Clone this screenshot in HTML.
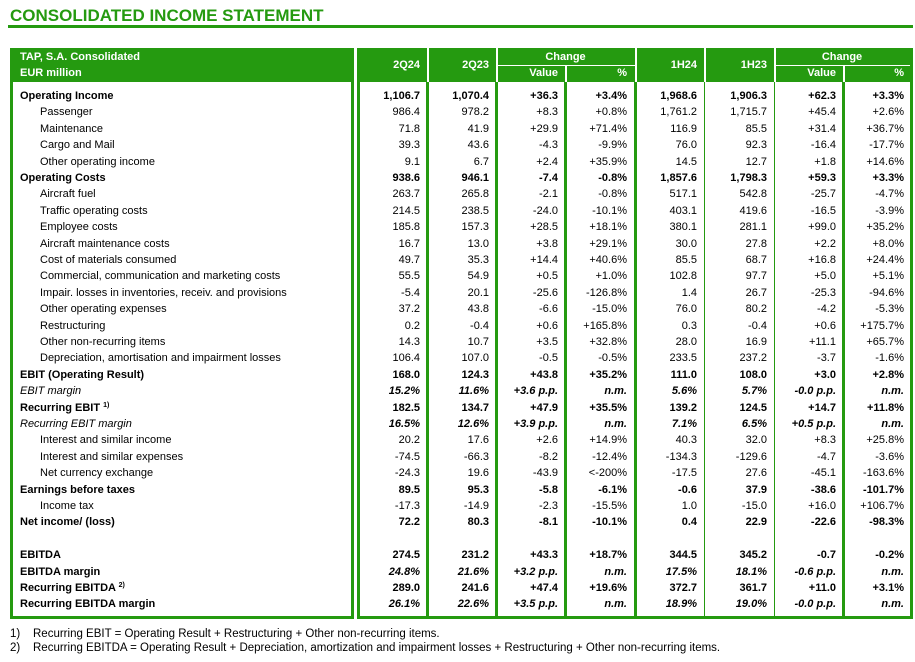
<!DOCTYPE html>
<html><head><meta charset="utf-8"><style>
body{margin:0;width:915px;height:662px;background:#fff;font-family:"Liberation Sans",Arial,sans-serif;position:relative;overflow:hidden;color:#000}
.a{position:absolute;white-space:nowrap;font-size:11px;line-height:13px}
.g{position:absolute;background:#259a10}
.w{position:absolute;background:#fff}
sup{font-size:7px;line-height:0;vertical-align:0;position:relative;top:-4px}
</style></head><body>
<div class="a" style="left:10px;top:6px;font-size:17px;line-height:20px;font-weight:bold;color:#259a10">CONSOLIDATED INCOME STATEMENT</div>
<div class="g" style="left:8px;top:25px;width:905px;height:3px"></div>
<div id="t"></div>
<div class="a" style="left:10px;top:628px;font-size:11.5px">1)&nbsp;&nbsp;&nbsp;&nbsp;Recurring EBIT = Operating Result + Restructuring + Other non-recurring items.</div>
<div class="a" style="left:10px;top:642px;font-size:11.5px">2)&nbsp;&nbsp;&nbsp;&nbsp;Recurring EBITDA = Operating Result + Depreciation, amortization and impairment losses + Restructuring + Other non-recurring items.</div>
<script>
var t=document.getElementById('t'),h='';
function box(x,y,w,hh,c){h+='<div class="'+c+'" style="left:'+x+'px;top:'+y+'px;width:'+w+'px;height:'+hh+'px"></div>';}
function tx(x,y,s,st){h+='<div class="a" style="left:'+x+'px;top:'+y+'px;'+(st||'')+'">'+s+'</div>';}
function rt(r,y,s,st){h+='<div class="a" style="right:'+(915-r)+'px;top:'+y+'px;'+(st||'')+'">'+s+'</div>';}
box(10,48,344,34,'g');box(357,48,556,34,'g');
box(10,82,3,537,'g');box(351,82,3,537,'g');box(10,616,344,3,'g');
box(357,82,3,537,'g');box(910,82,3,537,'g');box(357,616,556,3,'g');
var th=[427,496,565,635,843],tn=[704,774];
th.forEach(function(x){box(x-1,82,3,537,'g');});
tn.forEach(function(x){box(x,82,1,537,'g');});
[427,496,635,704,774].forEach(function(x){box(x,48,2,34,'w');});
box(496,65,139,1,'w');box(774,65,136,1,'w');box(565,65,2,17,'w');box(843,65,2,17,'w');
tx(20,51,'TAP, S.A. Consolidated','color:#fff;font-weight:bold');
tx(20,67,'EUR million','color:#fff;font-weight:bold');
var R=[420,489,558,627,697,767,836,904];
rt(R[0],59,'2Q24','color:#fff;font-weight:bold');rt(R[1],59,'2Q23','color:#fff;font-weight:bold');
rt(R[4],59,'1H24','color:#fff;font-weight:bold');rt(R[5],59,'1H23','color:#fff;font-weight:bold');
tx(496,51,'Change','color:#fff;font-weight:bold;width:139px;text-align:center');
tx(774,51,'Change','color:#fff;font-weight:bold;width:136px;text-align:center');
rt(R[2],67,'Value','color:#fff;font-weight:bold');rt(R[3],67,'%','color:#fff;font-weight:bold');
rt(R[6],67,'Value','color:#fff;font-weight:bold');rt(R[7],67,'%','color:#fff;font-weight:bold');
var rows=[
['Operating Income','b','1,106.7|1,070.4|+36.3|+3.4%|1,968.6|1,906.3|+62.3|+3.3%'],
['Passenger','s','986.4|978.2|+8.3|+0.8%|1,761.2|1,715.7|+45.4|+2.6%'],
['Maintenance','s','71.8|41.9|+29.9|+71.4%|116.9|85.5|+31.4|+36.7%'],
['Cargo and Mail','s','39.3|43.6|-4.3|-9.9%|76.0|92.3|-16.4|-17.7%'],
['Other operating income','s','9.1|6.7|+2.4|+35.9%|14.5|12.7|+1.8|+14.6%'],
['Operating Costs','b','938.6|946.1|-7.4|-0.8%|1,857.6|1,798.3|+59.3|+3.3%'],
['Aircraft fuel','s','263.7|265.8|-2.1|-0.8%|517.1|542.8|-25.7|-4.7%'],
['Traffic operating costs','s','214.5|238.5|-24.0|-10.1%|403.1|419.6|-16.5|-3.9%'],
['Employee costs','s','185.8|157.3|+28.5|+18.1%|380.1|281.1|+99.0|+35.2%'],
['Aircraft maintenance costs','s','16.7|13.0|+3.8|+29.1%|30.0|27.8|+2.2|+8.0%'],
['Cost of materials consumed','s','49.7|35.3|+14.4|+40.6%|85.5|68.7|+16.8|+24.4%'],
['Commercial, communication and marketing costs','s','55.5|54.9|+0.5|+1.0%|102.8|97.7|+5.0|+5.1%'],
['Impair. losses in inventories, receiv. and provisions','s','-5.4|20.1|-25.6|-126.8%|1.4|26.7|-25.3|-94.6%'],
['Other operating expenses','s','37.2|43.8|-6.6|-15.0%|76.0|80.2|-4.2|-5.3%'],
['Restructuring','s','0.2|-0.4|+0.6|+165.8%|0.3|-0.4|+0.6|+175.7%'],
['Other non-recurring items','s','14.3|10.7|+3.5|+32.8%|28.0|16.9|+11.1|+65.7%'],
['Depreciation, amortisation and impairment losses','s','106.4|107.0|-0.5|-0.5%|233.5|237.2|-3.7|-1.6%'],
['EBIT (Operating Result)','b','168.0|124.3|+43.8|+35.2%|111.0|108.0|+3.0|+2.8%'],
['EBIT margin','i','15.2%|11.6%|+3.6 p.p.|n.m.|5.6%|5.7%|-0.0 p.p.|n.m.'],
['Recurring EBIT <sup>1)</sup>','b','182.5|134.7|+47.9|+35.5%|139.2|124.5|+14.7|+11.8%'],
['Recurring EBIT margin','i','16.5%|12.6%|+3.9 p.p.|n.m.|7.1%|6.5%|+0.5 p.p.|n.m.'],
['Interest and similar income','s','20.2|17.6|+2.6|+14.9%|40.3|32.0|+8.3|+25.8%'],
['Interest and similar expenses','s','-74.5|-66.3|-8.2|-12.4%|-134.3|-129.6|-4.7|-3.6%'],
['Net currency exchange','s','-24.3|19.6|-43.9|&lt;-200%|-17.5|27.6|-45.1|-163.6%'],
['Earnings before taxes','b','89.5|95.3|-5.8|-6.1%|-0.6|37.9|-38.6|-101.7%'],
['Income tax','s','-17.3|-14.9|-2.3|-15.5%|1.0|-15.0|+16.0|+106.7%'],
['Net income/ (loss)','b','72.2|80.3|-8.1|-10.1%|0.4|22.9|-22.6|-98.3%'],
null,
['EBITDA','b','274.5|231.2|+43.3|+18.7%|344.5|345.2|-0.7|-0.2%'],
['EBITDA margin','m','24.8%|21.6%|+3.2 p.p.|n.m.|17.5%|18.1%|-0.6 p.p.|n.m.'],
['Recurring EBITDA <sup>2)</sup>','b','289.0|241.6|+47.4|+19.6%|372.7|361.7|+11.0|+3.1%'],
['Recurring EBITDA margin','m','26.1%|22.6%|+3.5 p.p.|n.m.|18.9%|19.0%|-0.0 p.p.|n.m.']
];
rows.forEach(function(r,i){
 if(!r)return;
 var y=Math.round(90+i*16.4),k=r[1];
 var ls=k=='b'||k=='m'?'font-weight:bold':k=='i'?'font-style:italic':'';
 tx(k=='s'?40:20,y,r[0],ls);
 var ns=k=='b'?'font-weight:bold':(k=='i'||k=='m')?'font-weight:bold;font-style:italic':'';
 r[2].split('|').forEach(function(v,j){rt(R[j],y,v,ns);});
});
t.innerHTML=h;
</script>
</body></html>
